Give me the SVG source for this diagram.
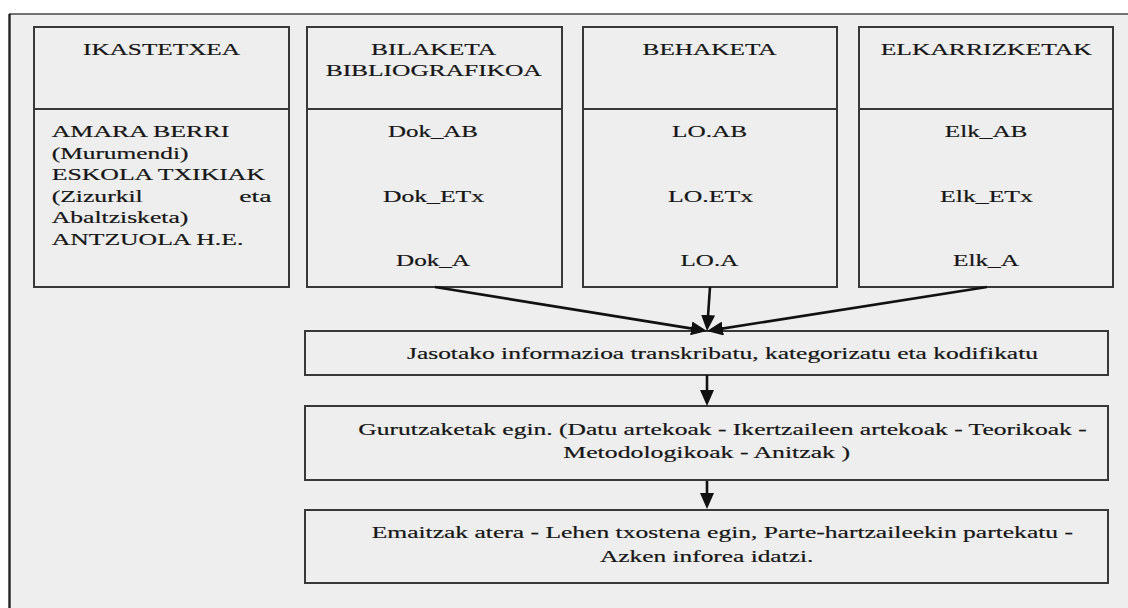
<svg xmlns="http://www.w3.org/2000/svg" width="1128" height="608" viewBox="0 0 1128 608">
  <style>
    .box { fill: #eeeeee; stroke: #383838; stroke-width: 2; }
    .div { stroke: #383838; stroke-width: 2; fill: none; }
    text { font-family: "Liberation Serif", "Times New Roman", Times, serif; font-size: 17px; fill: #161616; stroke: #161616; stroke-width: 0.2px; }
    .edge { stroke: #111111; stroke-width: 2.6; fill: none; marker-end: url(#head); }
  </style>
  <defs>
    <marker id="head" viewBox="0 0 16 14" refX="12" refY="7" markerWidth="16" markerHeight="14" markerUnits="userSpaceOnUse" orient="auto">
      <path d="M0,0 L16,7 L0,14 z" fill="#111111"/>
    </marker>
  </defs>

  <!-- page background and frame (top and left borders only) -->
  <rect x="0" y="0" width="1128" height="608" fill="#ffffff"/>
  <rect x="9" y="14" width="1119" height="594" fill="#eeeeee"/>
  <line x1="9" y1="14" x2="1128" y2="14" stroke="#444444" stroke-width="1.6"/>
  <line x1="9.5" y1="14" x2="9.5" y2="608" stroke="#222222" stroke-width="2.4"/>

  <!-- source columns -->
  <g id="ikastetxea">
    <rect class="box" x="34" y="27" width="255" height="260"/>
    <line class="div" x1="34" y1="109" x2="289" y2="109"/>
    <text x="83" y="55" textLength="157" lengthAdjust="spacingAndGlyphs">IKASTETXEA</text>
    <text x="51.7" y="137" textLength="177.6" lengthAdjust="spacingAndGlyphs">AMARA BERRI</text>
    <text x="51.7" y="158.6" textLength="136.7" lengthAdjust="spacingAndGlyphs">(Murumendi)</text>
    <text x="51.7" y="180.2" textLength="213.3" lengthAdjust="spacingAndGlyphs">ESKOLA TXIKIAK</text>
    <text x="51.7" y="201.8" textLength="91" lengthAdjust="spacingAndGlyphs">(Zizurkil</text>
    <text x="239.3" y="201.8" textLength="32.3" lengthAdjust="spacingAndGlyphs">eta</text>
    <text x="51.7" y="223.4" textLength="136.7" lengthAdjust="spacingAndGlyphs">Abaltzisketa)</text>
    <text x="51.7" y="245" textLength="191.7" lengthAdjust="spacingAndGlyphs">ANTZUOLA H.E.</text>
  </g>

  <g id="bilaketa">
    <rect class="box" x="307" y="27" width="255" height="260"/>
    <line class="div" x1="307" y1="109" x2="562" y2="109"/>
    <text x="371" y="55" textLength="125" lengthAdjust="spacingAndGlyphs">BILAKETA</text>
    <text x="325.7" y="76" textLength="216" lengthAdjust="spacingAndGlyphs">BIBLIOGRAFIKOA</text>
    <text x="388" y="137" textLength="90" lengthAdjust="spacingAndGlyphs">Dok_AB</text>
    <text x="383" y="202" textLength="101" lengthAdjust="spacingAndGlyphs">Dok_ETx</text>
    <text x="396" y="266" textLength="74" lengthAdjust="spacingAndGlyphs">Dok_A</text>
  </g>

  <g id="behaketa">
    <rect class="box" x="583" y="27" width="254" height="260"/>
    <line class="div" x1="583" y1="109" x2="837" y2="109"/>
    <text x="642.6" y="55" textLength="134" lengthAdjust="spacingAndGlyphs">BEHAKETA</text>
    <text x="672" y="137" textLength="75" lengthAdjust="spacingAndGlyphs">LO.AB</text>
    <text x="668" y="202" textLength="85" lengthAdjust="spacingAndGlyphs">LO.ETx</text>
    <text x="680.6" y="266" textLength="57.6" lengthAdjust="spacingAndGlyphs">LO.A</text>
  </g>

  <g id="elkarrizketak">
    <rect class="box" x="859" y="27" width="254" height="260"/>
    <line class="div" x1="859" y1="109" x2="1113" y2="109"/>
    <text x="880.7" y="55" textLength="211" lengthAdjust="spacingAndGlyphs">ELKARRIZKETAK</text>
    <text x="944.8" y="137" textLength="82.6" lengthAdjust="spacingAndGlyphs">Elk_AB</text>
    <text x="940" y="202" textLength="93" lengthAdjust="spacingAndGlyphs">Elk_ETx</text>
    <text x="953" y="266" textLength="66" lengthAdjust="spacingAndGlyphs">Elk_A</text>
  </g>

  <!-- processing steps -->
  <g id="transkribatu">
    <rect class="box" x="305" y="331" width="803" height="44"/>
    <text x="407" y="359" textLength="631" lengthAdjust="spacingAndGlyphs">Jasotako informazioa transkribatu, kategorizatu eta kodifikatu</text>
  </g>

  <g id="gurutzaketak">
    <rect class="box" x="305" y="406" width="803" height="74"/>
    <text x="358.3" y="434.5" textLength="728.4" lengthAdjust="spacingAndGlyphs">Gurutzaketak egin. (Datu artekoak - Ikertzaileen artekoak - Teorikoak -</text>
    <text x="563.3" y="458.3" textLength="286.7" lengthAdjust="spacingAndGlyphs">Metodologikoak - Anitzak )</text>
  </g>

  <g id="emaitzak">
    <rect class="box" x="305" y="510" width="803" height="73"/>
    <text x="371.7" y="537.5" textLength="701.3" lengthAdjust="spacingAndGlyphs">Emaitzak atera - Lehen txostena egin, Parte-hartzaileekin partekatu -</text>
    <text x="600" y="561.7" textLength="213.3" lengthAdjust="spacingAndGlyphs">Azken inforea idatzi.</text>
  </g>

  <!-- connectors -->
  <g id="connectors">
    <line class="edge" x1="435" y1="287" x2="703.05" y2="330.36"/>
    <line class="edge" x1="710" y1="287" x2="707.27" y2="327"/>
    <line class="edge" x1="987" y1="287" x2="710.95" y2="330.38"/>
    <line class="edge" x1="707" y1="375" x2="707" y2="402"/>
    <line class="edge" x1="707" y1="481" x2="707" y2="505"/>
  </g>
</svg>
